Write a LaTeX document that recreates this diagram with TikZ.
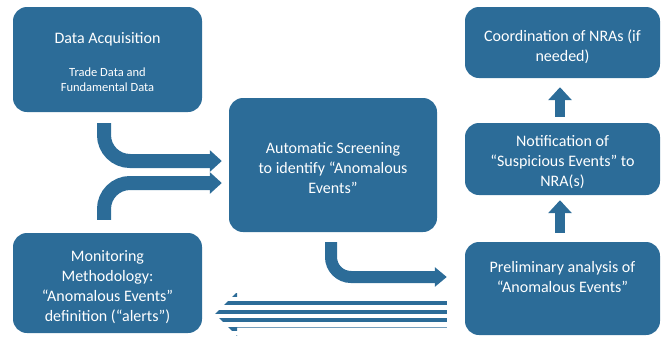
\documentclass[tikz,border=0pt]{standalone}
\usepackage{fontspec}
\setmainfont{Carlito}
\usetikzlibrary{arrows.meta,calc}
\definecolor{bblue}{RGB}{44,108,152}
\begin{document}
\begin{tikzpicture}[x=1pt,y=-1pt,
  box/.style={fill=bblue, rounded corners=14pt, inner sep=0pt, draw=none},
  txt/.style={text=white, align=center, inner sep=0pt, font=\fontsize{16}{20}\selectfont},
  smalltxt/.style={text=white, align=center, inner sep=0pt, font=\fontsize{12.5}{15}\selectfont},
  curvearrow/.style={draw=bblue, line width=14pt, rounded corners=26pt, -{Triangle[width=21pt,length=12pt]}},
  curvearrowb/.style={draw=bblue, line width=12pt, rounded corners=20pt, -{Triangle[width=19pt,length=12pt]}},
  uparrow/.style={draw=bblue, line width=9.5pt, -{Triangle[width=23pt,length=13pt]}}]
\useasboundingbox (0,0) rectangle (665,338);

% boxes
\node[box, minimum width=189pt, minimum height=105pt] (acq) at (107.5,59.5) {};
\node[box, minimum width=189pt, minimum height=100pt] (mon) at (107.5,283) {};
\node[box, minimum width=208pt, minimum height=134pt] (scr) at (333,165) {};
\node[box, minimum width=195pt, minimum height=71pt] (coo) at (562.5,42.5) {};
\node[box, minimum width=195pt, minimum height=72pt] (noti) at (562.5,159) {};
\node[box, minimum width=195pt, minimum height=93pt] (pre) at (562.5,288.5) {};

% texts
\node[txt] (acqT) at ($(acq)+(0,-20.5)$) {Data Acquisition};
\node[smalltxt] (acqS) at ($(acq)+(0,20)$) {Trade Data and\\Fundamental Data};
\node[txt] (monT) at ($(mon)+(0,4)$) {Monitoring\\Methodology:\\“Anomalous Events”\\definition (“alerts”)};
\node[txt] (scrT) at ($(scr)+(0,3)$) {Automatic Screening\\to identify “Anomalous\\Events”};
\node[txt] (cooT) at ($(coo)+(0,4.5)$) {Coordination of NRAs (if\\needed)};
\node[txt] (notiT) at ($(noti)+(0,3)$) {Notification of\\“Suspicious Events” to\\NRA(s)};
\node[txt] (preT) at ($(pre)+(0,-11.5)$) {Preliminary analysis of\\“Anomalous Events”};

% curved arrows into screening
\draw[curvearrow] ($(acq.south)+(-3.5,11)$) |- ($(scr.west)+(-7,-4)$);
\draw[curvearrow] ($(mon.north)+(-3.5,-13)$) |- ($(scr.west)+(-7,18)$);
% screening to preliminary
\draw[curvearrowb] ($(scr.south)+(-2,10)$) |- ($(pre.west)+(-18,-11.5)$);
% up arrows
\draw[uparrow] ($(pre.north)+(-2.5,-9)$) -- ($(noti.south)+(-2.5,5)$);
\draw[uparrow] ($(noti.north)+(-2.5,-6)$) -- ($(coo.south)+(-2.5,9)$);

% striped arrow back to monitoring
\coordinate (st) at ($(mon.east)+(13,31)$);
\coordinate (sh) at ($(pre.west)+(-18,25.5)$);
\begin{scope}
  \clip (st) -- ++(22,-22) -- ++(0,8) -- ($(sh)+(0,-14)$) -- ($(sh)+(0,13.5)$)
        -- ($(st)+(22,13.5)$) -- ++(0,8.5) -- cycle;
  \foreach \d in {-21.5,-13,-4.5,4,12.5,21}
    \fill[bblue] ($(st)+(-5,\d)$) rectangle ($(sh)+(5,{\d+4})$);
\end{scope}
\end{tikzpicture}
\end{document}
